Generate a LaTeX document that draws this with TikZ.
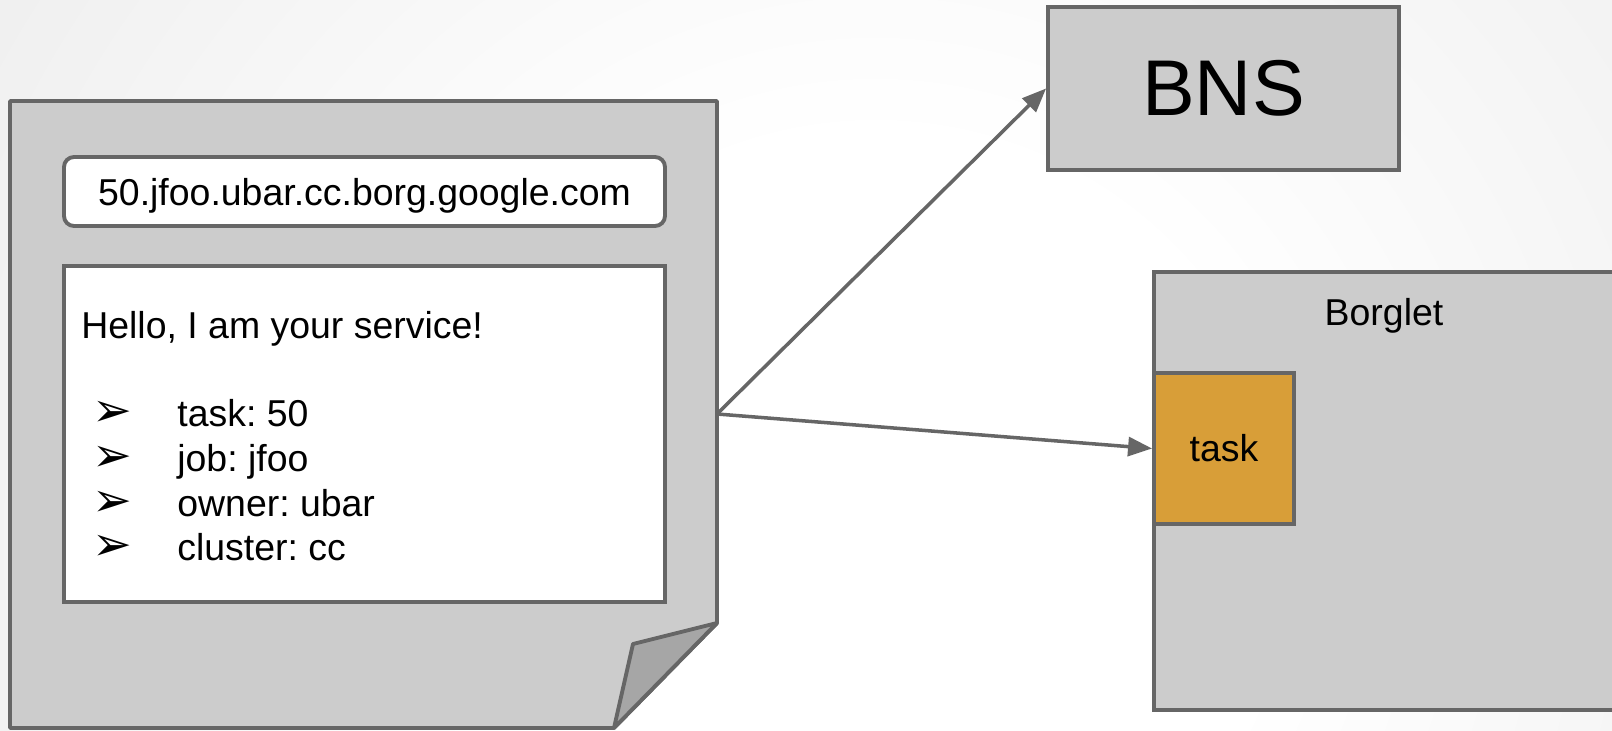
\documentclass[tikz,border=0pt]{standalone}
\usepackage{fontspec}
\setmainfont{Liberation Sans}
\newfontfamily\markfont{DejaVu Sans}
\frenchspacing
\usetikzlibrary{arrows.meta, positioning}

\definecolor{edgegray}{HTML}{666666}
\definecolor{panelgray}{HTML}{CCCCCC}
\definecolor{foldgray}{HTML}{A6A6A6}
\definecolor{taskgold}{HTML}{D89E38}
\definecolor{slidegray}{HTML}{D8D8D8}
\pgfdeclareradialshading{slideglow}{\pgfpoint{0bp}{0bp}}{color(0bp)=(white); color(8bp)=(white); color(40bp)=(slidegray); color(50bp)=(slidegray)}

\begin{document}
\begin{tikzpicture}
    % --- Style Definitions ---
    \tikzset{
        panel style/.style={
            draw=edgegray,
            fill=panelgray,
            line width=2.2pt
        },
        fold style/.style={
            draw=edgegray,
            fill=foldgray,
            line width=2.2pt,
            line join=round
        },
        white box/.style={
            draw=edgegray,
            fill=white,
            line width=2.2pt,
            inner sep=0pt
        },
        body text/.style={
            font=\fontsize{21.3}{25}\selectfont,
            text=black,
            inner sep=0pt
        },
        bullet mark/.style={
            font=\markfont\fontsize{27}{30}\selectfont,
            text=black,
            inner sep=0pt
        },
        link arrow/.style={
            -{Triangle[length=0.48cm, width=0.38cm]},
            draw=edgegray,
            line width=2pt
        }
    }

    % Slide dimensions
    \def\slidewidth{32.24}
    \def\slideheight{14.6}

    \useasboundingbox (0,0) rectangle (\slidewidth,\slideheight);
    \clip (0,0) rectangle (\slidewidth,\slideheight);

    % --- 1. Slide background ---
    \fill[slidegray] (0,0) rectangle (\slidewidth,\slideheight);
    \shade[shading=slideglow] (17.5,3.8) circle (25);

    % --- 2. The page with the folded corner ---
    \draw[panel style, line join=round]
        (0.2,12.58) -- (14.34,12.58) -- (14.34,2.14)
        -- (12.28,0.04) -- (0.2,0.04) -- cycle;
    \draw[fold style] (14.34,2.14) -- (12.66,1.72) -- (12.28,0.04) -- cycle;

    % Address bar
    \node[white box, body text, rounded corners=0.2cm,
          minimum width=12.02cm, minimum height=1.38cm, text depth=0pt]
        (address) at (7.29,10.77) {50.jfoo.ubar.cc.borg.google.com};

    % Page content
    \node[white box, minimum width=12.02cm, minimum height=6.72cm]
        (card) at (7.29,5.92) {};

    \node[body text, anchor=base west] (hello) at (1.62,7.82) {Hello, I am your service!};

    \node[bullet mark, anchor=base west] (mark1) at (1.84,6.06) {➢};
    \node[body text, anchor=base west] (item1) at (3.54,6.06) {task: 50};
    \node[bullet mark, anchor=base west] (mark2) at (1.84,5.18) {➢};
    \node[body text, anchor=base west] (item2) at (3.54,5.18) {job: jfoo};
    \node[bullet mark, anchor=base west] (mark3) at (1.84,4.28) {➢};
    \node[body text, anchor=base west] (item3) at (3.54,4.28) {owner: ubar};
    \node[bullet mark, anchor=base west] (mark4) at (1.84,3.40) {➢};
    \node[body text, anchor=base west] (item4) at (3.54,3.40) {cluster: cc};

    % --- 3. BNS and the Borglet ---
    \node[panel style, font=\fontsize{45}{54}\selectfont,
          minimum width=7.02cm, minimum height=3.26cm, inner sep=0pt]
        (bns) at (24.47,12.83) {BNS};

    \node[panel style, minimum width=9.92cm, minimum height=8.76cm]
        (borglet) at (28.04,4.78) {};
    \node[body text, anchor=base] (borglet label) at (27.68,8.08) {Borglet};

    \node[panel style, body text, fill=taskgold,
          minimum width=2.8cm, minimum height=3.02cm]
        (task) at (24.48,5.63) {task};

    % --- 4. Arrows from the page ---
    \coordinate (page out) at (14.34,6.32);
    \draw[link arrow] (page out) -- (bns.west);
    \draw[link arrow] (page out) -- (task.west);

\end{tikzpicture}
\end{document}
